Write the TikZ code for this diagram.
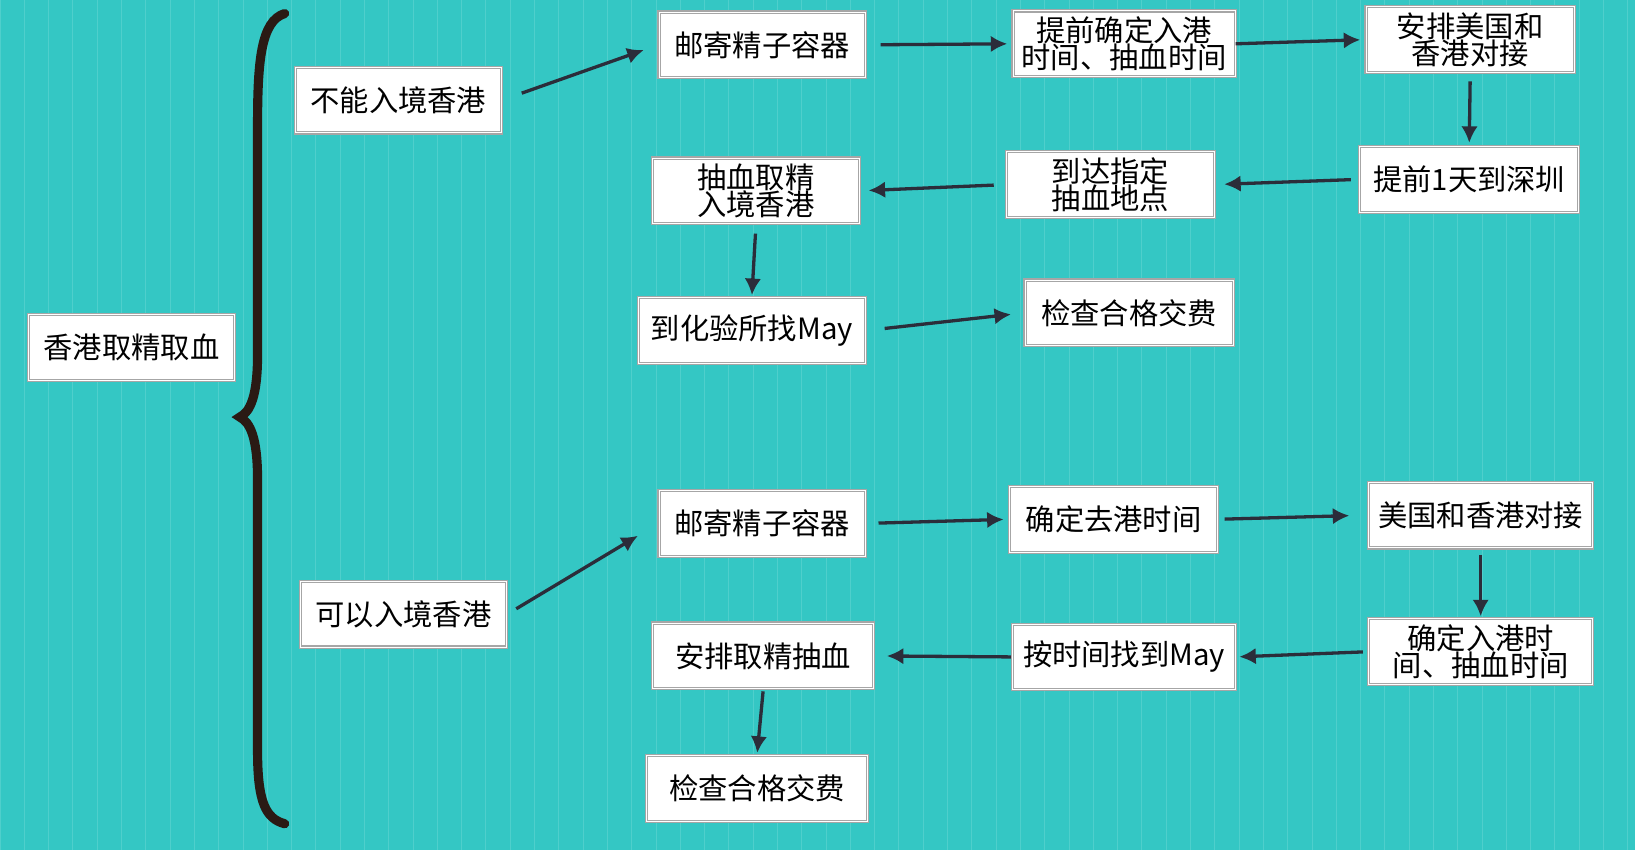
\documentclass[tikz,border=0pt]{standalone}
\usepackage{fontspec}
\setmainfont{Noto Sans CJK SC}
\usetikzlibrary{arrows.meta}
\definecolor{bg}{HTML}{34C7C4}
\definecolor{gridc}{HTML}{4FCFCC}
\definecolor{arr}{HTML}{2B2D3A}
\definecolor{brace}{HTML}{2A1A14}
\begin{document}
\begin{tikzpicture}[x=0.02cm,y=-0.02cm,
 box/.style={draw=gray!70,fill=white,line width=0.6pt,double=white,double distance=0.5pt,minimum height=1.26cm,inner sep=1pt,align=center,font=\fontsize{16}{15}\selectfont},
 ar/.style={draw=arr,line width=1.8pt,-{Latex[length=9pt,width=9pt]}}]
\fill[bg] (0,0) rectangle (1568,815);
\useasboundingbox (0,0) rectangle (1568,815);
\draw[gridc,line width=0.5pt] (0,0) grid[step=23.3] (1568,815);
\draw[brace,line width=5pt,line cap=round] (273,13) .. controls (250,20) and (247,60) .. (247,120) -- (247,340) .. controls (247,380) and (240,395) .. (230,400) .. controls (240,405) and (247,420) .. (247,460) -- (247,720) .. controls (247,770) and (255,785) .. (273,790);
\node[box,minimum width=3.96cm] (root) at (126,333) {香港取精取血};
\node[box,minimum width=3.96cm] (n1) at (382,96) {不能入境香港};
\node[box,minimum width=3.96cm] (a1) at (731,43) {邮寄精子容器};
\node[box,minimum width=4.26cm] (a2) at (1078,42) {提前确定入港\\时间、抽血时间};
\node[box,minimum width=4.0cm] (a3) at (1410,38) {安排美国和\\香港对接};
\node[box,minimum width=4.2cm] (a4) at (1409,172) {提前1天到深圳};
\node[box,minimum width=3.98cm] (a5) at (1065,177) {到达指定\\抽血地点};
\node[box,minimum width=3.98cm] (a6) at (725,183) {抽血取精\\入境香港};
\node[box,minimum width=4.36cm] (a7) at (721,317) {到化验所找May};
\node[box,minimum width=4.0cm] (a8) at (1083,300) {检查合格交费};
\node[box,minimum width=3.96cm] (n2) at (387,589) {可以入境香港};
\node[box,minimum width=3.96cm] (b1) at (731,502) {邮寄精子容器};
\node[box,minimum width=4.0cm] (b2) at (1068,498) {确定去港时间};
\node[box,minimum width=4.3cm] (b3) at (1420,494) {美国和香港对接};
\node[box,minimum width=4.3cm] (b4) at (1420,625) {确定入港时\\间、抽血时间};
\node[box,minimum width=4.28cm] (b5) at (1078,630) {按时间找到May};
\node[box,minimum width=4.24cm] (b6) at (732,629) {安排取精抽血};
\node[box,minimum width=4.24cm] (b7) at (726,756) {检查合格交费};
\draw[ar,shorten <=0.4cm,shorten >=0.3cm] (n1.east) -- (a1.west);
\draw[ar,shorten <=0.28cm,shorten >=0.1cm] (a1.east) -- (a2.west);
\draw[ar,shorten >=0.1cm] (a2.east) -- (a3.west);
\draw[ar,shorten <=0.16cm,shorten >=0.06cm] (a3.south) -- (a4.north);
\draw[ar,shorten <=0.16cm,shorten >=0.18cm] (a4.west) -- (a5.east);
\draw[ar,shorten <=0.24cm,shorten >=0.16cm] (a5.west) -- (a6.east);
\draw[ar,shorten <=0.18cm,shorten >=0.04cm] (a6.south) -- (a7.north);
\draw[ar,shorten <=0.36cm,shorten >=0.26cm] (a7.east) -- (a8.west);
\draw[ar,shorten <=0.2cm,shorten >=0.46cm] (n2.east) -- (b1.west);
\draw[ar,shorten <=0.24cm,shorten >=0.1cm] (b1.east) -- (b2.west);
\draw[ar,shorten <=0.12cm,shorten >=0.36cm] (b2.east) -- (b3.west);
\draw[ar,shorten <=0.12cm,shorten >=0.04cm] (b3.south) -- (b4.north);
\draw[ar,shorten <=0.1cm,shorten >=0.06cm] (b4.west) -- (b5.east);
\draw[ar,shorten <=0.02cm,shorten >=0.24cm] (b5.west) -- (b6.east);
\draw[ar,shorten <=0.04cm,shorten >=0.04cm] (b6.south) -- (b7.north);
\end{tikzpicture}
\end{document}
